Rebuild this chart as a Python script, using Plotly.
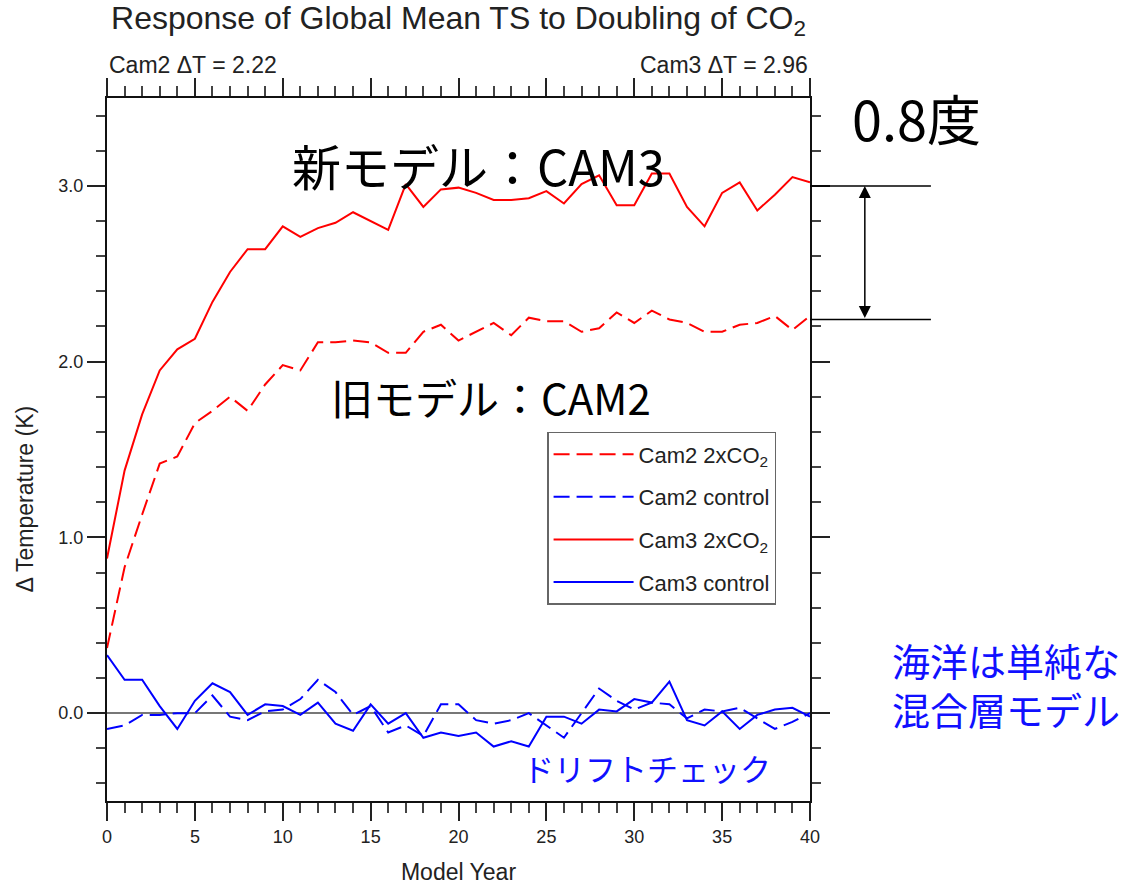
import plotly.graph_objects as go

# model years
years = list(range(41))

# global mean TS change (K)
cam2_2xco2 = [0.37, 0.83, 1.13, 1.42, 1.46, 1.65, 1.72, 1.80, 1.72, 1.87,
              1.98, 1.95, 2.11, 2.11, 2.12, 2.11, 2.05, 2.05, 2.17, 2.21,
              2.12, 2.17, 2.22, 2.15, 2.25, 2.23, 2.23, 2.17, 2.19, 2.28,
              2.22, 2.29, 2.24, 2.22, 2.17, 2.17, 2.21, 2.22, 2.26, 2.18,
              2.26]
cam2_control = [-0.09, -0.07, -0.01, -0.01, 0.00, 0.00, 0.10, -0.02, -0.04, 0.01,
                0.02, 0.08, 0.19, 0.12, -0.01, 0.04, -0.11, -0.07, -0.13, 0.05,
                0.05, -0.04, -0.06, -0.04, 0.00, -0.07, -0.14, 0.00, 0.14, 0.07,
                0.02, 0.06, 0.05, -0.03, 0.02, 0.01, 0.03, -0.03, -0.09, -0.05,
                0.00]
cam3_2xco2 = [0.88, 1.38, 1.70, 1.95, 2.07, 2.13, 2.34, 2.51, 2.64, 2.64,
              2.77, 2.71, 2.76, 2.79, 2.85, 2.80, 2.75, 3.01, 2.88, 2.98,
              2.99, 2.96, 2.92, 2.92, 2.93, 2.97, 2.90, 3.01, 3.06, 2.89,
              2.89, 3.07, 3.07, 2.88, 2.77, 2.96, 3.02, 2.86, 2.95, 3.05,
              3.02]
cam3_control = [0.33, 0.19, 0.19, 0.04, -0.09, 0.07, 0.17, 0.12, -0.01, 0.05,
                0.04, -0.01, 0.06, -0.06, -0.10, 0.05, -0.06, 0.00, -0.14, -0.11,
                -0.13, -0.11, -0.19, -0.16, -0.19, -0.02, -0.02, -0.06, 0.02, 0.01,
                0.08, 0.06, 0.18, -0.04, -0.07, 0.01, -0.09, -0.01, 0.02, 0.03,
                -0.02]

cam2_dT = 2.22
cam3_dT = 2.96
diff_levels = [3.0, 2.24]  # levels marked by the bracket on the right

LAT = "Liberation Sans, Arial, sans-serif"
JP = "Noto Sans CJK JP, sans-serif"
DASH = "16px,7px"

fig = go.Figure()

series = [
    ("Cam2 2xCO<sub>2</sub>", cam2_2xco2, "#ff0000", DASH),
    ("Cam2 control", cam2_control, "#0000ff", DASH),
    ("Cam3 2xCO<sub>2</sub>", cam3_2xco2, "#ff0000", "solid"),
    ("Cam3 control", cam3_control, "#0000ff", "solid"),
]
for name, vals, col, dash in series:
    fig.add_trace(go.Scatter(
        x=years, y=vals, mode="lines", name=name, legendgroup=name,
        line=dict(color=col, width=2, dash=dash),
    ))

axis_common = dict(
    showline=True, linecolor="#111", linewidth=2, mirror="ticks",
    ticks="outside", ticklen=18, tickwidth=2, tickcolor="#222",
    showgrid=False, automargin=False,
    tickfont=dict(family=LAT, size=18, color="#222"),
)

fig.update_xaxes(
    range=[0, 40], dtick=5, tick0=0, zeroline=False,
    minor=dict(dtick=1, ticks="outside", ticklen=10, tickcolor="#444", tickwidth=1.5),
    title=dict(text="Model Year", font=dict(family=LAT, size=23, color="#222"), standoff=18),
    **axis_common,
)
fig.update_yaxes(
    range=[-0.5, 3.5], dtick=1, tick0=0, tickformat=".1f",
    zeroline=True, zerolinecolor="#777", zerolinewidth=2,
    minor=dict(dtick=0.2, ticks="outside", ticklen=9, tickcolor="#444", tickwidth=1.5),
    **axis_common,
)

annos = [
    dict(x=0, y=1, xanchor="left", yanchor="bottom", yshift=18,
         text=f"Cam2 ΔT = {cam2_dT:.2f}", font=dict(family=LAT, size=23, color="#222")),
    dict(x=1, y=1, xanchor="right", yanchor="bottom", yshift=18,
         text=f"Cam3 ΔT = {cam3_dT:.2f}", font=dict(family=LAT, size=23, color="#222")),
    dict(x=-0.117, y=0.43, text="Δ Temperature (K)", textangle=-90,
         font=dict(family=LAT, size=23, color="#222")),
    dict(x=0.528, y=0.906, text="新モデル：CAM3", font=dict(family=JP, size=49, color="#000")),
    dict(x=0.546, y=0.575, text="旧モデル：CAM2", font=dict(family=JP, size=42, color="#000")),
    dict(x=1.151, y=0.972, text="0.8度", font=dict(family=JP, size=54, color="#000")),
    dict(x=0.768, y=0.047, text="ドリフトチェック", font=dict(family=JP, size=31, color="#1010ff")),
    dict(x=1.114, y=0.166, xanchor="left", align="left", text="海洋は単純な<br>混合層モデル",
         font=dict(family=JP, size=38, color="#1010ff")),
]
for a in annos:
    a.setdefault("xref", "paper")
    a.setdefault("yref", "paper")
    a.setdefault("xanchor", "center")
    a.setdefault("yanchor", "middle")
    a.setdefault("showarrow", False)
    fig.add_annotation(**a)

# bracket showing the difference between the two models
for lvl in diff_levels:
    fig.add_shape(type="line", xref="paper", yref="y", x0=1.0, x1=1.172,
                  y0=lvl, y1=lvl, line=dict(color="#000", width=1.5))
fig.add_annotation(
    xref="paper", yref="y", x=1.078, y=diff_levels[0],
    axref="pixel", ayref="y", ax=0, ay=diff_levels[1],
    showarrow=True, arrowside="end+start", arrowhead=2, arrowsize=1.6,
    arrowwidth=1.5, arrowcolor="#000", text="",
)

fig.update_layout(
    width=1127, height=886,
    margin=dict(l=107, r=317, t=98, b=85),
    paper_bgcolor="white", plot_bgcolor="white",
    title=dict(text="Response of Global Mean TS to Doubling of CO<sub>2</sub>",
               x=0.5, xref="paper", xanchor="center", y=0.98, yanchor="middle",
               font=dict(family=LAT, size=32, color="#222")),
    legend=dict(x=0.626, y=0.525, xanchor="left", yanchor="top",
                bordercolor="#666", borderwidth=1.5, bgcolor="white",
                font=dict(family=LAT, size=22, color="#222"),
                itemwidth=80, tracegroupgap=11, traceorder="grouped"),
    showlegend=True,
)

fig.write_html("out.html", config={"displayModeBar": False},
               post_script="document.body.style.margin='0px';")
